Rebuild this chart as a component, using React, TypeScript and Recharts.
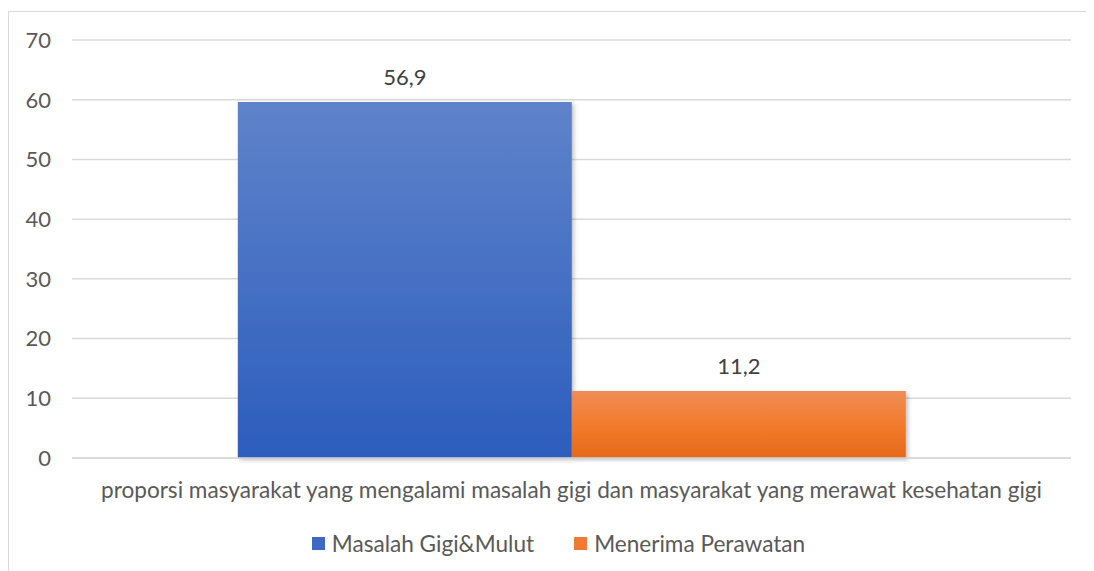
import { Bar, BarChart, CartesianGrid, LabelList, Legend, XAxis, YAxis } from "recharts";

const categories = [
  "proporsi masyarakat yang mengalami masalah gigi dan masyarakat yang merawat kesehatan gigi",
];
const masalahValues = [59.6];
const masalahLabels = ["56,9"];
const perawatanValues = [11.2];
const perawatanLabels = ["11,2"];
const yTicks = [0, 10, 20, 30, 40, 50, 60, 70];

const data = categories.map((category, i) => ({
  category,
  masalah: masalahValues[i],
  masalahLabel: masalahLabels[i],
  perawatan: perawatanValues[i],
  perawatanLabel: perawatanLabels[i],
}));

const FONT = "Lato, 'Open Sans', sans-serif";
const TEXT = "#595959";

const legendItems = [
  { name: "Masalah Gigi&Mulut", color: "#3d69c3" },
  { name: "Menerima Perawatan", color: "#ee7a33" },
];

function ChartLegend() {
  return (
    <div
      style={{
        height: 30,
        display: "flex",
        justifyContent: "center",
        alignItems: "center",
        gap: 40,
        fontSize: 22.6,
        color: TEXT,
        fontFamily: FONT,
        paddingLeft: 24,
      }}
    >
      {legendItems.map((item) => (
        <div key={item.name} style={{ display: "flex", alignItems: "center", gap: 7 }}>
          <span style={{ width: 13, height: 13, background: item.color, display: "inline-block" }} />
          <span>{item.name}</span>
        </div>
      ))}
    </div>
  );
}

export default function App() {
  return (
    <div
      style={{
        marginTop: 3,
        width: 1086,
        height: 560,
        borderLeft: "1px solid #d9d9d9",
        borderTop: "1px solid #d9d9d9",
        fontFamily: FONT,
      }}
    >
      <BarChart
        width={1085}
        height={559}
        data={data}
        barGap={0}
        barCategoryGap="16.6%"
        margin={{ top: 28, right: 23, left: 13, bottom: 31 }}
      >
        <defs>
          <linearGradient id="gBlue" x1="0" y1="0" x2="0" y2="1">
            <stop offset="0%" stopColor="#5f83ca" />
            <stop offset="100%" stopColor="#2c5dbd" />
          </linearGradient>
          <linearGradient id="gOrange" x1="0" y1="0" x2="0" y2="1">
            <stop offset="0%" stopColor="#f08c56" />
            <stop offset="50%" stopColor="#f27b2c" />
            <stop offset="100%" stopColor="#e56a1b" />
          </linearGradient>
          <filter id="shadow" x="-5%" y="-5%" width="110%" height="110%">
            <feDropShadow dx="2" dy="2" stdDeviation="2" floodColor="#000" floodOpacity="0.25" />
          </filter>
        </defs>
        <CartesianGrid stroke="#d9d9d9" strokeWidth={1.5} vertical={false} />
        <XAxis
          dataKey="category"
          tick={{ fill: TEXT, fontSize: 22.6, fontFamily: FONT }}
          axisLine={{ stroke: "#d9d9d9", strokeWidth: 1.5 }}
          tickLine={false}
          tickMargin={18}
          height={52}
        />
        <YAxis
          domain={[0, 70]}
          ticks={yTicks}
          tick={{ fill: TEXT, fontSize: 22, fontFamily: FONT }}
          axisLine={false}
          tickLine={false}
          tickMargin={15}
          width={50}
        />
        <Legend verticalAlign="bottom" content={<ChartLegend />} wrapperStyle={{ bottom: 13 }} />
        <Bar
          dataKey="masalah"
          name="Masalah Gigi&Mulut"
          fill="url(#gBlue)"
          filter="url(#shadow)"
          isAnimationActive={false}
        >
          <LabelList dataKey="masalahLabel" position="top" offset={17} fill="#404040" fontSize={22} fontFamily={FONT} />
        </Bar>
        <Bar
          dataKey="perawatan"
          name="Menerima Perawatan"
          fill="url(#gOrange)"
          filter="url(#shadow)"
          isAnimationActive={false}
        >
          <LabelList dataKey="perawatanLabel" position="top" offset={17} fill="#404040" fontSize={22} fontFamily={FONT} />
        </Bar>
      </BarChart>
    </div>
  );
}
